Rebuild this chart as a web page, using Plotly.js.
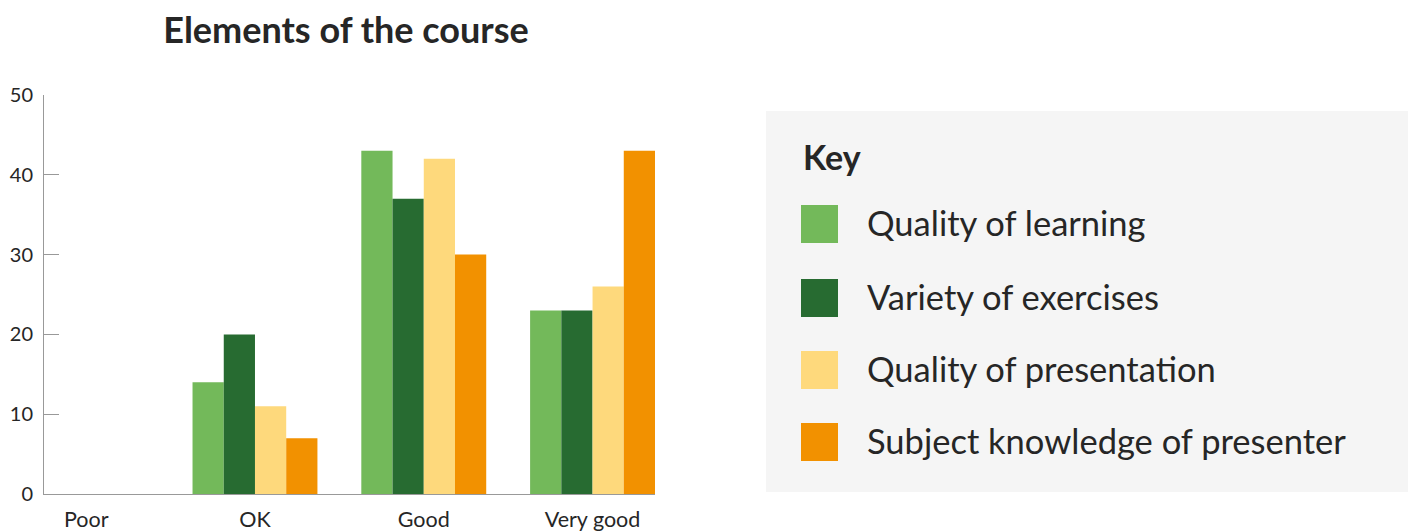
<!DOCTYPE html>
<html>
<head>
<meta charset="utf-8">
<script src="https://cdn.plot.ly/plotly-3.0.1.min.js"></script>
<style>html,body{margin:0;padding:0;background:#fff;}#chart{width:1408px;height:532px;}</style>
</head>
<body>
<div id="chart"></div>
<script>
// ---- data ----
const categories = ["Poor", "OK", "Good", "Very good"];
const seriesNames = ["Quality of learning", "Variety of exercises", "Quality of presentation", "Subject knowledge of presenter"];
const qualityOfLearning = [0, 14, 43, 23];
const varietyOfExercises = [0, 20, 37, 23];
const qualityOfPresentation = [0, 11, 42, 26];
const subjectKnowledge = [0, 7, 30, 43];
const seriesColors = ["#73b95a", "#276b31", "#fed97c", "#f29100"];
const yTicks = [0, 10, 20, 30, 40, 50];
const titleText = "Elements of the course";
const keyTitle = "Key";

const seriesValues = [qualityOfLearning, varietyOfExercises, qualityOfPresentation, subjectKnowledge];

// ---- layout geometry (pixels) ----
const W = 1408, H = 532;
const plotL = 44, plotR = 655, plotT = 95, plotB = 494;
const pw = plotR - plotL, ph = plotB - plotT;
const px = v => (v - plotL) / pw;
const py = v => (plotB - v) / ph;
const textColor = "#262626";
const font = "Lato, 'Open Sans', sans-serif";

const traces = seriesNames.map((name, i) => ({
  type: "bar",
  name: name,
  x: categories,
  y: seriesValues[i],
  marker: {color: seriesColors[i], line: {width: 0}},
  hoverinfo: "x+y+name"
}));

const shapes = [{
  type: "rect", xref: "paper", yref: "paper",
  x0: px(766), x1: px(1410), y0: py(492), y1: py(111),
  fillcolor: "#f5f5f5", line: {width: 0}, layer: "below"
}];
const annotations = [{
  xref: "paper", yref: "paper", x: px(801), y: py(156),
  xanchor: "left", yanchor: "middle", showarrow: false,
  text: "<b>" + keyTitle + "</b>",
  font: {family: font, size: 34, color: textColor}
}];
const itemCenters = [224, 298, 370, 442];
seriesNames.forEach((name, i) => {
  const cy = itemCenters[i];
  shapes.push({
    type: "rect", xref: "paper", yref: "paper",
    x0: px(801), x1: px(838), y0: py(cy + 19), y1: py(cy - 19),
    fillcolor: seriesColors[i], line: {width: 0}
  });
  annotations.push({
    xref: "paper", yref: "paper", x: px(865), y: py(cy - 2),
    xanchor: "left", yanchor: "middle", showarrow: false,
    text: name, font: {family: font, size: 34.5, color: textColor}
  });
});

const layout = {
  width: W, height: H,
  margin: {l: plotL, r: W - plotR, t: plotT, b: H - plotB, pad: 0},
  paper_bgcolor: "#ffffff", plot_bgcolor: "#ffffff",
  font: {family: font, color: textColor},
  showlegend: false,
  title: {
    text: titleText, xref: "container", yref: "container",
    x: 346 / W, xanchor: "center", y: 1 - 30 / H, yanchor: "middle",
    font: {family: font, size: 36, weight: 700, color: textColor}
  },
  barmode: "group", bargap: 0.26, bargroupgap: 0,
  xaxis: {
    type: "category", range: [-0.25, 3.37], fixedrange: true,
    showline: true, linecolor: "#999999", linewidth: 1,
    ticks: "", showgrid: false, zeroline: false,
    tickfont: {family: font, size: 21.5, color: textColor},
    ticklabelstandoff: 6
  },
  yaxis: {
    range: [0, 50], tickvals: yTicks, ticktext: yTicks.map(String),
    showline: true, linecolor: "#999999", linewidth: 1,
    ticks: "inside", ticklen: 15, tickcolor: "#999999", tickwidth: 1,
    showgrid: false, zeroline: false,
    tickfont: {family: font, size: 20, color: textColor},
    ticklabelstandoff: 6
  },
  shapes: shapes,
  annotations: annotations
};

Plotly.newPlot("chart", traces, layout, {displayModeBar: false, staticPlot: true});
</script>
</body>
</html>
